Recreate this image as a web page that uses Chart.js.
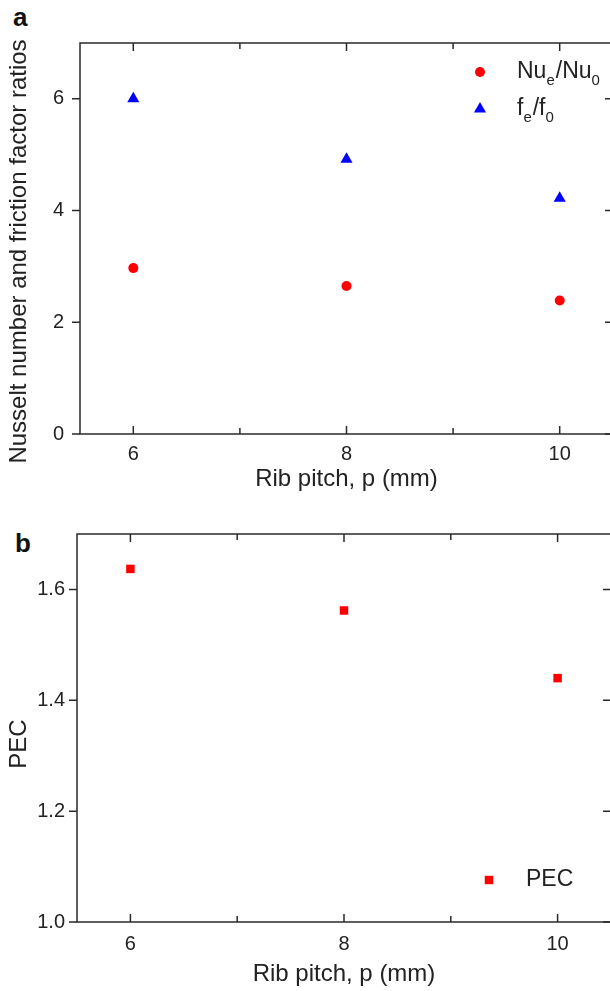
<!DOCTYPE html>
<html>
<head>
<meta charset="utf-8">
<script src="https://cdn.jsdelivr.net/npm/chart.js@4.4.1/dist/chart.umd.min.js"></script>
<style>
  html, body { margin: 0; padding: 0; background: #fff; overflow: hidden; width: 610px; height: 991px; }
  canvas { position: absolute; left: 0; }
  .tag { position: absolute; font: bold 26px "Liberation Sans", Arial, sans-serif; line-height: 26px; color: #111; }
</style>
</head>
<body>
<div class="tag" style="left:13px; top:4px;">a</div>
<div class="tag" style="left:15px; top:530px;">b</div>
<canvas id="chartA" width="620" height="500" style="top:0"></canvas>
<canvas id="chartB" width="620" height="491" style="top:500px"></canvas>
<script>
// data
const pitch = [6, 8, 10];
const nuRatio = [2.97, 2.65, 2.39];
const fRatio = [6.0, 4.92, 4.22];
const pecVals = [1.637, 1.562, 1.44];

const xMajor = [6, 8, 10];
const xMinor = [7, 9];
const yTicksA = [0, 2, 4, 6];
const yTicksB = [1.0, 1.2, 1.4, 1.6];

const FONT = '"Liberation Sans", Arial, sans-serif';
const AXIS = '#2a2a2a';
const TEXT = '#222';

const pts = (xs, ys) => xs.map((x, i) => ({ x: x, y: ys[i] }));

// box, mirrored ticks, y title and the in-plot legend
const frame = {
  id: 'frame',
  afterDraw(chart, args, o) {
    const { ctx, chartArea: a, scales: { x, y } } = chart;
    ctx.save();
    ctx.strokeStyle = AXIS;
    ctx.lineWidth = 1.5;
    ctx.strokeRect(a.left, a.top, a.right - a.left, a.bottom - a.top);
    ctx.beginPath();
    xMajor.concat(xMinor).forEach(v => {
      const px = x.getPixelForValue(v);
      const len = xMinor.includes(v) ? 6 : 8;
      ctx.moveTo(px, a.bottom); ctx.lineTo(px, a.bottom - len);
      ctx.moveTo(px, a.top); ctx.lineTo(px, a.top + len);
    });
    o.yTicks.forEach(v => {
      const py = y.getPixelForValue(v);
      ctx.moveTo(a.left, py); ctx.lineTo(a.left - 8, py);
      ctx.moveTo(a.right, py); ctx.lineTo(a.right - 8, py);
    });
    ctx.stroke();

    // y title, a little below the middle of the plot as in the source
    ctx.save();
    ctx.translate(19, (a.top + a.bottom) / 2 + o.titleShift);
    ctx.rotate(-Math.PI / 2);
    ctx.fillStyle = TEXT;
    ctx.font = '24px ' + FONT;
    ctx.textAlign = 'center';
    ctx.textBaseline = 'middle';
    ctx.fillText(o.title, 0, 0);
    ctx.restore();

    o.legend.forEach(item => {
      const mx = a.right - item.dx, my = a.top + item.dy;
      ctx.fillStyle = item.color;
      Chart.helpers.drawPoint(ctx, { pointStyle: item.style, radius: item.radius, rotation: 0, borderWidth: 0 }, mx, my);
      let tx = mx + 37;
      ctx.fillStyle = TEXT;
      ctx.textBaseline = 'middle';
      ctx.textAlign = 'left';
      item.parts.forEach(([s, sub]) => {
        ctx.font = (sub ? '15px ' : '23px ') + FONT;
        ctx.fillText(s, tx, my + (sub ? 9 : 0));
        tx += ctx.measureText(s).width + (sub ? 1 : 0);
      });
    });
    ctx.restore();
  }
};

function xScale(h, labelPad, titlePad) {
  return {
    type: 'linear', min: 5.5, max: 10.5,
    afterBuildTicks: s => { s.ticks = xMajor.map(v => ({ value: v })); },
    afterFit: s => { s.height = h; },
    grid: { display: false, drawTicks: false },
    border: { display: false },
    ticks: { padding: labelPad, color: TEXT, font: { family: FONT, size: 20 } },
    title: { display: true, text: 'Rib pitch, p (mm)', color: TEXT, font: { family: FONT, size: 24 }, padding: { top: 0, bottom: titlePad } }
  };
}

function yScale(min, max, ticks, w, labelPad, fmt) {
  return {
    type: 'linear', min: min, max: max,
    afterBuildTicks: s => { s.ticks = ticks.map(v => ({ value: v })); },
    afterFit: s => { s.width = w; },
    grid: { display: false, drawTicks: false },
    border: { display: false },
    ticks: { padding: labelPad, color: TEXT, font: { family: FONT, size: 20 }, callback: fmt }
  };
}

new Chart(document.getElementById('chartA'), {
  type: 'scatter',
  data: {
    datasets: [
      { label: 'Nu_e/Nu_0', data: pts(pitch, nuRatio), pointStyle: 'circle', pointRadius: 5, backgroundColor: '#ff0000', borderWidth: 0 },
      { label: 'f_e/f_0', data: pts(pitch, fRatio), pointStyle: 'triangle', pointRadius: 7, backgroundColor: '#0000ff', borderWidth: 0 }
    ]
  },
  options: {
    responsive: false, animation: false,
    layout: { padding: { top: 43, right: 7, left: 0, bottom: 0 } },
    scales: {
      x: xScale(66, 8, 6),
      y: yScale(0, 7, yTicksA, 80, 16, v => String(v))
    },
    plugins: {
      legend: { display: false }, tooltip: { enabled: false },
      frame: {
        yTicks: yTicksA,
        title: 'Nusselt number and friction factor ratios',
        titleShift: 13,
        legend: [
          { style: 'circle', radius: 5, color: '#ff0000', dx: 133, dy: 29, parts: [['Nu', 0], ['e', 1], ['/Nu', 0], ['0', 1]] },
          { style: 'triangle', radius: 7, color: '#0000ff', dx: 133, dy: 66, parts: [['f', 0], ['e', 1], ['/f', 0], ['0', 1]] }
        ]
      }
    }
  },
  plugins: [frame]
});

new Chart(document.getElementById('chartB'), {
  type: 'scatter',
  data: {
    datasets: [
      { label: 'PEC', data: pts(pitch, pecVals), pointStyle: 'rect', pointRadius: 6, backgroundColor: '#ff0000', borderWidth: 0 }
    ]
  },
  options: {
    responsive: false, animation: false,
    layout: { padding: { top: 34, right: 9, left: 0, bottom: 0 } },
    scales: {
      x: xScale(69, 10, 2),
      y: yScale(1.0, 1.7, yTicksB, 77, 12, v => v.toFixed(1))
    },
    plugins: {
      legend: { display: false }, tooltip: { enabled: false },
      frame: {
        yTicks: yTicksB,
        title: 'PEC',
        titleShift: 16,
        legend: [
          { style: 'rect', radius: 6, color: '#ff0000', dx: 122, dy: 346, parts: [['PEC', 0]] }
        ]
      }
    }
  },
  plugins: [frame]
});
</script>
</body>
</html>
